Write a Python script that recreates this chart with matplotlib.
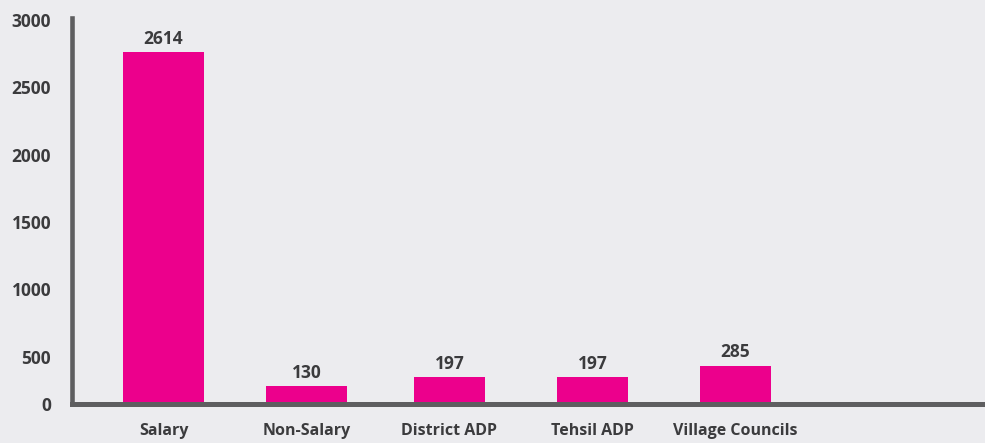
#!/usr/bin/env python3
"""Budget allocation bar chart (Salary / Non-Salary / ADP / Village Councils)."""

import matplotlib
matplotlib.use("Agg")
import matplotlib.pyplot as plt
import matplotlib.transforms as mtransforms
import numpy as np

CATEGORIES = ["Salary", "Non-Salary", "District ADP", "Tehsil ADP", "Village Councils"]
VALUES = [2614, 130, 197, 197, 285]
Y_TICKS = [0, 500, 1000, 1500, 2000, 2500, 3000]

BG = "#ececef"
BAR = "#ec008c"
AXIS = "#5e5e60"
TEXT = "#3b3b3d"

plt.rcParams["font.family"] = ["Open Sans", "DejaVu Sans"]
plt.rcParams["font.weight"] = "bold"

fig = plt.figure(figsize=(9.85, 4.43), dpi=100, facecolor=BG)
ax = fig.add_axes([72 / 985, 39 / 443, 913 / 985, 404 / 443])
ax.set_facecolor(BG)

x = np.arange(len(CATEGORIES))
widths = [0.566, 0.566, 0.49, 0.49, 0.49]
rects = ax.bar(x, VALUES, width=widths, color=BAR, zorder=2)

for rect, v in zip(rects, VALUES):
    ax.annotate(f"{v}", (rect.get_x() + rect.get_width() / 2, rect.get_height()),
                xytext=(0, 3), textcoords="offset points",
                ha="center", va="bottom", fontsize=12.5, fontweight="bold", color=TEXT)

ax.set_xlim(-0.64, 5.745)
ax.set_ylim(0, 3000)

ax.set_xticks(x)
ax.set_xticklabels(CATEGORIES, fontsize=11.5, fontweight="bold", color=TEXT)
ax.set_yticks(Y_TICKS)
ax.set_yticklabels([str(t) for t in Y_TICKS], fontsize=12.5, fontweight="bold", color=TEXT)
ax.tick_params(axis="both", length=0)
ax.tick_params(axis="x", pad=14)
ax.tick_params(axis="y", pad=15)

# labels in the source sit ~20px below their gridline, except the zero
shift = mtransforms.ScaledTranslation(0, -20 / 100, fig.dpi_scale_trans)
for lbl, t in zip(ax.get_yticklabels(), Y_TICKS):
    if t > 0:
        lbl.set_transform(lbl.get_transform() + shift)

for side in ("top", "right"):
    ax.spines[side].set_visible(False)
ax.spines["left"].set_color(AXIS)
ax.spines["left"].set_linewidth(3.3)
ax.spines["left"].set_bounds(0, 2870)
ax.spines["bottom"].set_color(AXIS)
ax.spines["bottom"].set_linewidth(3.6)
ax.spines["bottom"].set_zorder(3)

fig.savefig("out.png", dpi=100, facecolor=BG)
